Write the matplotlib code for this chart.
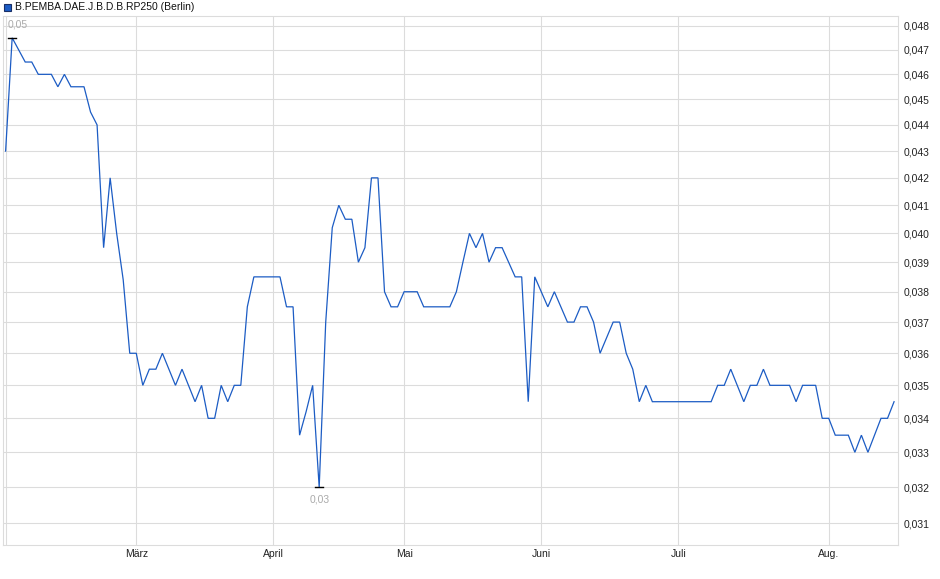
import numpy as np
import pandas as pd
import matplotlib
matplotlib.use("Agg")
import matplotlib.pyplot as plt
from matplotlib.ticker import FixedLocator, NullLocator, FuncFormatter

plt.rcParams['font.family'] = ['Liberation Sans', 'DejaVu Sans']

# trading days Feb 3 - Aug 15 2025 (Berlin, without Easter and May 1)
holidays = ["2025-04-18", "2025-04-21", "2025-05-01"]
dates = pd.bdate_range("2025-02-03", "2025-08-15")
dates = dates[~dates.isin(pd.to_datetime(holidays))]

prices = [
    # Feb
    0.043, 0.0475, 0.047, 0.0465, 0.0465, 0.046, 0.046, 0.046, 0.0455, 0.046,
    0.0455, 0.0455, 0.0455, 0.0445, 0.044, 0.0395, 0.042, 0.040, 0.0384, 0.036,
    # Mar
    0.036, 0.035, 0.0355, 0.0355, 0.036, 0.0355, 0.035, 0.0355, 0.035, 0.0345,
    0.035, 0.034, 0.034, 0.035, 0.0345, 0.035, 0.035, 0.0375, 0.0385, 0.0385,
    0.0385,
    # Apr
    0.0385, 0.0385, 0.0375, 0.0375, 0.0335, 0.0342, 0.035, 0.032, 0.037, 0.0402,
    0.041, 0.0405, 0.0405, 0.039, 0.0395, 0.042, 0.042, 0.038, 0.0375, 0.0375,
    # May
    0.038, 0.038, 0.038, 0.0375, 0.0375, 0.0375, 0.0375, 0.0375, 0.038, 0.039,
    0.040, 0.0395, 0.040, 0.039, 0.0395, 0.0395, 0.039, 0.0385, 0.0385, 0.0345,
    0.0385,
    # Jun
    0.038, 0.0375, 0.038, 0.0375, 0.037, 0.037, 0.0375, 0.0375, 0.037, 0.036,
    0.0365, 0.037, 0.037, 0.036, 0.0355, 0.0345, 0.035, 0.0345, 0.0345, 0.0345,
    0.0345,
    # Jul
    0.0345, 0.0345, 0.0345, 0.0345, 0.0345, 0.0345, 0.035, 0.035, 0.0355, 0.035,
    0.0345, 0.035, 0.035, 0.0355, 0.035, 0.035, 0.035, 0.035, 0.0345, 0.035,
    0.035, 0.035, 0.034,
    # Aug
    0.034, 0.0335, 0.0335, 0.0335, 0.033, 0.0335, 0.033, 0.0335, 0.034, 0.034,
    0.0345,
]

month_labels = ["", "März", "April", "Mai", "Juni", "Juli", "Aug."]
y_ticks = [0.031, 0.032, 0.033, 0.034, 0.035, 0.036, 0.037, 0.038, 0.039,
           0.040, 0.041, 0.042, 0.043, 0.044, 0.045, 0.046, 0.047, 0.048]
series_name = "B.PEMBA.DAE.J.B.D.B.RP250 (Berlin)"

x = np.arange(len(prices))
y = np.array(prices)
month_pos = [i for i in range(len(dates)) if i == 0 or dates[i].month != dates[i - 1].month]

line_col = "#1c5cc4"
grid_col = "#dcdcdc"

fig = plt.figure(figsize=(9.4, 5.79), dpi=100)
ax = fig.add_axes([0.0032, 0.0582, 0.9521, 0.9142])

ax.plot(x, y, color=line_col, lw=0.9, solid_joinstyle="miter")

ax.set_yscale("log")
ax.set_ylim(0.03041, 0.04842)
ax.set_xlim(-0.4, 136.6)

ax.yaxis.set_major_locator(FixedLocator(y_ticks))
ax.yaxis.set_minor_locator(NullLocator())
ax.yaxis.set_major_formatter(FuncFormatter(lambda v, p: f"{v:.3f}".replace(".", ",")))
ax.yaxis.tick_right()
ax.set_xticks(month_pos)
ax.set_xticklabels(month_labels)
ax.tick_params(axis="both", length=0, labelsize=7.5, colors="#222222")
ax.tick_params(axis="y", pad=4)
ax.tick_params(axis="x", pad=3)

ax.grid(True, color=grid_col, lw=0.8)
ax.set_axisbelow(True)
for s in ax.spines.values():
    s.set_color(grid_col)
    s.set_linewidth(0.8)

# max / min markers
imax = int(np.argmax(y))
imin = int(np.argmin(y))
for idx, txt, dy, va, dx in [(imax, "0,05", 6, "bottom", 4), (imin, "0,03", -5, "top", 0)]:
    ax.plot([x[idx] - 0.6, x[idx] + 0.6], [y[idx], y[idx]], color="black", lw=1.0)
    ax.annotate(txt, (x[idx], y[idx]), xytext=(dx, dy), textcoords="offset points",
                ha="center", va=va, fontsize=7.5, color="#aaaaaa")

# legend
fig.patches.append(plt.Rectangle((4 / 940, 1 - 11 / 579), 7 / 940, 7 / 579,
                                 transform=fig.transFigure, facecolor=line_col,
                                 edgecolor="#1a2f66", lw=0.8))
fig.text(15 / 940, 1 - 7 / 579, series_name, fontsize=7.5, va="center", ha="left",
         color="#111111")

fig.savefig("out.png", dpi=100)
